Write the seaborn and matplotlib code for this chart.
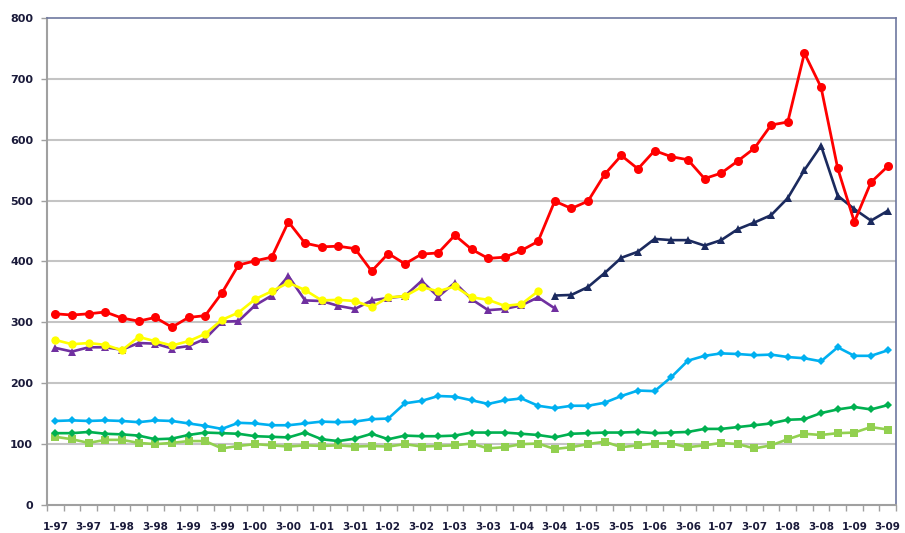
import numpy as np
import pandas as pd
import seaborn as sns
import matplotlib.pyplot as plt

sns.set_style('white')
plt.rcParams['font.family'] = ['DejaVu Sans']

# quarterly values, Q1-1997 .. Q3-2009
red = [314, 312, 314, 317, 307, 302, 308, 292, 308, 311, 348, 394, 401, 407, 465, 430,
       424, 425, 421, 384, 413, 396, 412, 414, 443, 420, 405, 407, 418, 433, 499, 487,
       499, 543, 574, 552, 582, 572, 567, 536, 545, 565, 586, 624, 629, 742, 686, 553,
       465, 530, 556]
navy = [344, 345, 358, 381, 406, 416, 437, 435, 435, 426, 435, 453, 464, 476, 504, 550,
        590, 508, 486, 467, 483]  # from Q3-2004
purple = [258, 252, 259, 259, 255, 266, 265, 257, 261, 273, 301, 302, 328, 344, 376, 336,
          335, 327, 322, 336, 340, 343, 368, 342, 365, 338, 320, 322, 328, 341, 323]
yellow = [271, 264, 266, 263, 254, 276, 269, 262, 269, 281, 304, 316, 338, 351, 365, 353,
          336, 337, 335, 325, 341, 343, 358, 351, 359, 341, 337, 327, 330, 351]
cyan = [138, 139, 138, 139, 138, 136, 139, 138, 134, 130, 125, 135, 134, 131, 131, 134,
        137, 136, 137, 141, 142, 167, 171, 179, 178, 172, 166, 172, 175, 163, 159, 163,
        163, 168, 179, 188, 187, 210, 237, 245, 249, 248, 246, 247, 243, 241, 236, 259,
        245, 245, 254]
green = [118, 118, 120, 117, 116, 114, 108, 109, 115, 119, 118, 117, 113, 112, 111, 119,
         108, 105, 109, 117, 108, 114, 113, 113, 114, 119, 119, 119, 117, 115, 111, 117,
         118, 119, 119, 120, 118, 119, 120, 125, 125, 128, 131, 134, 140, 141, 151, 157,
         161, 157, 164]
lime = [112, 108, 102, 107, 107, 102, 100, 102, 105, 105, 93, 97, 100, 98, 96, 98,
        97, 98, 96, 97, 96, 100, 96, 97, 98, 101, 93, 95, 100, 101, 92, 95,
        100, 104, 95, 98, 101, 101, 95, 98, 102, 100, 93, 98, 108, 117, 115, 118,
        119, 128, 124]

tick_labels = ['1-97', '3-97', '1-98', '3-98', '1-99', '3-99', '1-00', '3-00', '1-01',
               '3-01', '1-02', '3-02', '1-03', '3-03', '1-04', '3-04', '1-05', '3-05',
               '1-06', '3-06', '1-07', '3-07', '1-08', '3-08', '1-09', '3-09']

n = len(red)
navy_start = n - len(navy)

fig = plt.figure(figsize=(9.05, 5.33), dpi=100)
ax = fig.add_axes([0.052, 0.0525, 0.938, 0.914])

for v in range(100, 800, 100):
    ax.axhline(v, color='#C4C4C4', lw=1.5, zorder=0)

# lower series first, then upper ones on top
sns.lineplot(x=np.arange(n), y=lime, color='#92D050', marker='s', markersize=6,
             markeredgewidth=0, lw=1.9, ax=ax)
sns.lineplot(x=np.arange(n), y=green, color='#00B050', marker='D', markersize=4.5,
             markeredgewidth=0, lw=1.9, ax=ax)
sns.lineplot(x=np.arange(n), y=cyan, color='#00B0F0', marker='D', markersize=4.5,
             markeredgewidth=0, lw=1.9, ax=ax)
sns.lineplot(x=np.arange(len(purple)), y=purple, color='#7030A0', marker='^', markersize=6,
             markeredgewidth=0, lw=1.9, ax=ax)
sns.lineplot(x=np.arange(len(yellow)), y=yellow, color='#FFFF00', marker='o', markersize=6,
             markeredgewidth=0, lw=1.9, ax=ax)
sns.lineplot(x=np.arange(navy_start, n), y=navy, color='#1B2A5E', marker='^', markersize=6,
             markeredgewidth=0, lw=1.9, ax=ax)
sns.lineplot(x=np.arange(n), y=red, color='#FF0000', marker='o', markersize=6.5,
             markeredgewidth=0, lw=2, ax=ax)

ax.set_xlim(-0.5, n - 0.5)
ax.set_ylim(0, 800)
ax.set_yticks(range(0, 900, 100))
ax.set_xticks(np.arange(0, n, 2))
ax.set_xticklabels(tick_labels)
ax.set_xticks(np.arange(-0.5, n, 1), minor=True)
ax.set_xlabel('')
ax.set_ylabel('')

ax.tick_params(axis='x', which='major', length=0, pad=12, labelsize=7.5,
               labelcolor='#1a1a3a')
ax.tick_params(axis='x', which='minor', length=4, width=1, color='#A0A0A0',
               direction='out', bottom=True)
ax.tick_params(axis='y', length=4, width=1, color='#A0A0A0', pad=6, labelsize=8,
               labelcolor='#1a1a3a', left=True)
for lab in ax.get_xticklabels() + ax.get_yticklabels():
    lab.set_fontweight('bold')

for side in ['left', 'bottom']:
    ax.spines[side].set_color('#A0A0A0')
    ax.spines[side].set_linewidth(1.5)
for side in ['top', 'right']:
    ax.spines[side].set_color('#6E78A0')
    ax.spines[side].set_linewidth(1.2)

plt.savefig('out.png', dpi=100)
